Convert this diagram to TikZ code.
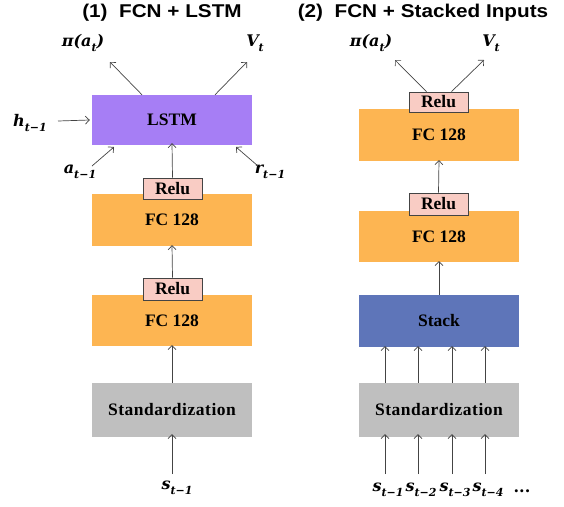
\documentclass[tikz,border=0pt]{standalone}
\usepackage{fontspec}
\setmainfont{Liberation Serif}
\newfontfamily\titlefont{Liberation Sans}
\newfontfamily\mathlab{DejaVu Serif}
\usetikzlibrary{arrows.meta}
\definecolor{lstmc}{HTML}{A67EF5}
\definecolor{fcc}{HTML}{FDB552}
\definecolor{reluc}{HTML}{F9CCC4}
\definecolor{stdc}{HTML}{BFBFBF}
\definecolor{stackc}{HTML}{5E75B9}
\definecolor{arrc}{HTML}{444444}
\newcommand{\subs}[1]{\raisebox{-0.3em}{\fontsize{11}{11}\selectfont\mathlab\bfseries\itshape #1}}
\newcommand{\tm}{t−1}
\begin{document}
\begin{tikzpicture}[x=1pt,y=-1pt,
  box/.style={minimum width=160pt,inner sep=0pt,font=\fontsize{17.5}{17.5}\selectfont\bfseries},
  relubox/.style={draw=arrc,line width=0.8pt,fill=reluc,minimum width=59pt,inner sep=0pt,font=\fontsize{17.5}{17.5}\selectfont\bfseries},
  lab/.style={inner sep=0pt,font=\fontsize{16}{16}\selectfont\mathlab\bfseries\itshape},
  conn/.style={draw=arrc,line width=0.7pt,-{Straight Barb[length=4pt,width=8pt]}},
  ttl/.style={inner sep=0pt,font=\fontsize{18.5}{19}\selectfont\titlefont\bfseries}]
\useasboundingbox (0,0) rectangle (564,506);
% titles
\node[ttl] (t1) at (162,13) {\scalebox{1.12}[1]{(1)\ \ FCN + LSTM}};
\node[ttl] (t2) at (423,13) {\scalebox{1.12}[1]{(2)\ \ FCN + Stacked Inputs}};
% ---------- left column ----------
\node[box,fill=lstmc,minimum height=50pt] (lstm) at (172,120) {LSTM};
\node[box,fill=fcc,minimum height=52pt] (fc1) at (172,220) {FC 128};
\node[relubox,minimum height=21pt] (relu1) at (172.5,188.5) {Relu};
\node[box,fill=fcc,minimum height=51pt] (fc2) at (172,320.5) {FC 128};
\node[relubox,minimum height=22pt] (relu2) at (172.5,289) {Relu};
\node[box,fill=stdc,minimum height=54pt] (std1) at (172,410) {\addfontfeature{LetterSpace=3}Standardization};
% labels left
\node[lab] (pi1) at (83,43) {π(a\subs{t})};
\node[lab] (v1) at (255,43) {V\subs{t}};
\node[lab] (h1) at (30,123) {h\subs{\tm}};
\node[lab] (a1) at (80,172) {a\subs{\tm}};
\node[lab] (r1) at (270,172) {r\subs{\tm}};
\node[lab] (s1) at (177,488) {s\subs{\tm}};
\coordinate (pi1e) at (110,62);
\coordinate (v1e) at (247,62);
\coordinate (h1s) at (58,121);
\coordinate (a1s) at (92,166);
\coordinate (a1e) at (114,147);
\coordinate (r1s) at (258,166);
\coordinate (r1e) at (236,147);
\coordinate (s1s) at (172,474);
\draw[conn] ([xshift=-30pt]lstm.north) -- (pi1e);
\draw[conn] ([xshift=43pt]lstm.north) -- (v1e);
\draw[conn] (h1s) -- ([xshift=-2pt]lstm.west);
\draw[conn] (a1s) -- (a1e);
\draw[conn] (r1s) -- (r1e);
\draw[conn] (relu1.north) -- ([yshift=2pt]lstm.south);
\draw[conn] (relu2.north) -- ([yshift=1pt]fc1.south);
\draw[conn] (std1.north) -- ([yshift=1pt]fc2.south);
\draw[conn] (s1s) -- ([yshift=3pt]std1.south);
% ---------- right column ----------
\node[box,fill=fcc,minimum height=52pt] (fcr1) at (439,135) {FC 128};
\node[relubox,minimum height=20pt] (relur1) at (438.5,102) {Relu};
\node[box,fill=fcc,minimum height=51pt] (fcr2) at (439,236.5) {FC 128};
\node[relubox,minimum height=22pt] (relur2) at (438.5,204) {Relu};
\node[box,fill=stackc,minimum height=52pt] (stack) at (439,321) {Stack};
\node[box,fill=stdc,minimum height=54pt] (std2) at (439,410) {\addfontfeature{LetterSpace=3}Standardization};
\node[lab] (pi2) at (371,43) {π(a\subs{t})};
\node[lab] (v2) at (491,43) {V\subs{t}};
\coordinate (pi2e) at (395,60);
\coordinate (v2e) at (484,60);
\draw[conn] ([xshift=-12pt]relur1.north) -- (pi2e);
\draw[conn] ([xshift=13pt]relur1.north) -- (v2e);
\draw[conn] (relur2.north) -- ([yshift=1pt]fcr1.south);
\draw[conn] (stack.north) -- ([yshift=1pt]fcr2.south);
\foreach \dx/\n/\k in {-54/a/1,-21/b/2,13/c/3,46/d/4}{
  \draw[conn] ([xshift=\dx pt]std2.north) -- ([xshift=\dx pt,yshift=1pt]stack.south);
  \coordinate (in\n) at (439+\dx,474);
  \draw[conn] (in\n) -- ([xshift=\dx pt,yshift=3pt]std2.south);
  \node[lab] (s\n) at (442+\dx,490) {s\subs{t−\k}};
}
\node[lab] (dots) at (522,491) {\upshape ...};
\end{tikzpicture}
\end{document}
